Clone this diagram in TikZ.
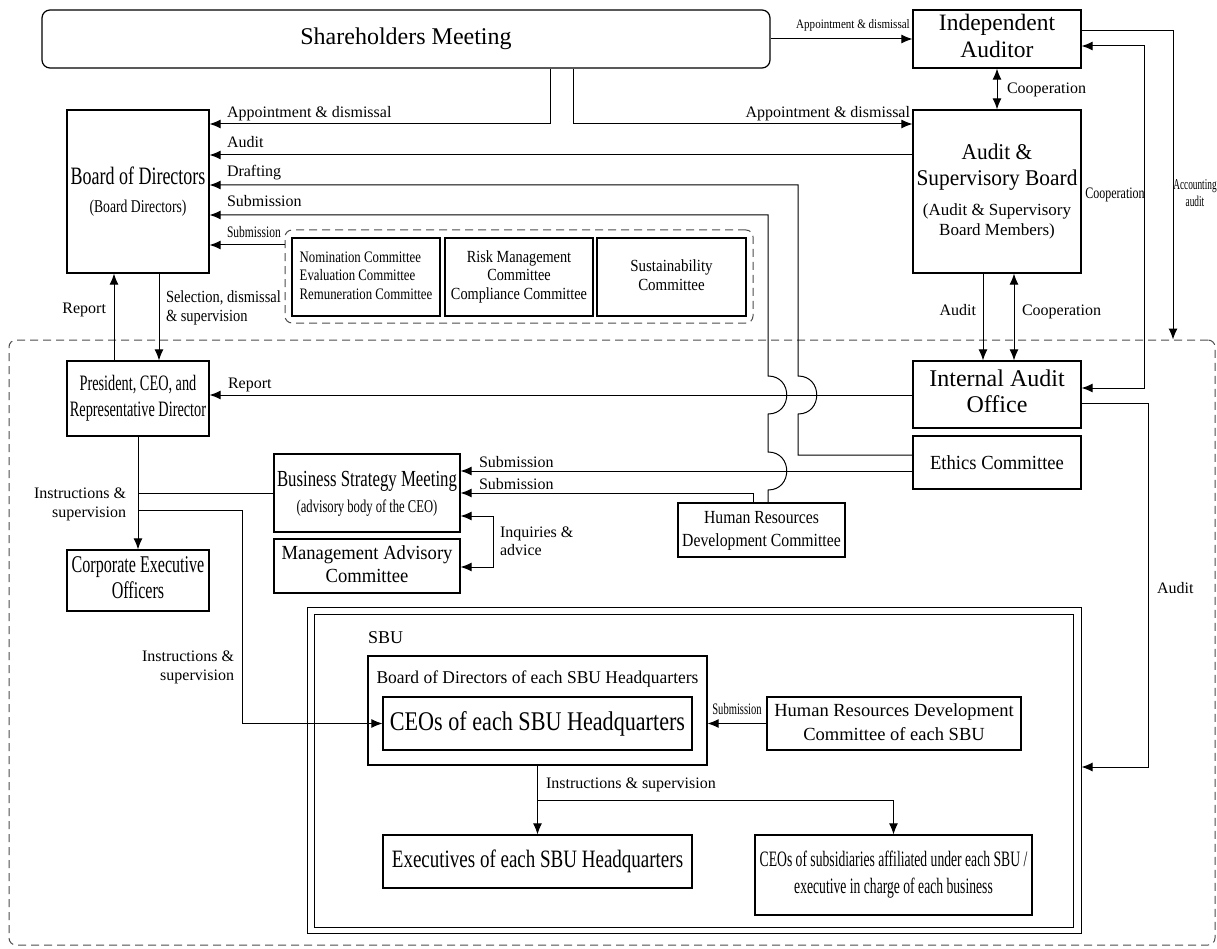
\documentclass[tikz,border=0pt]{standalone}
\usepackage{fontspec}
\setmainfont{Liberation Serif}
\usepackage{graphicx}
\usetikzlibrary{arrows.meta}
\usetikzlibrary{calc}
\tikzset{>={Latex[length=11pt,width=9pt]}}
\newcommand{\sq}[5][c]{\scalebox{#2}[1]{\fontsize{#3}{#4}\selectfont\begin{tabular}[t]{@{}#1@{}}#5\end{tabular}}}
\newcommand{\tx}[3]{\scalebox{#1}[1]{\fontsize{#2}{#2}\selectfont #3}}
\tikzset{
  box/.style={draw, line width=1.2pt, inner sep=0pt},
  lab/.style={inner sep=0pt, outer sep=0pt},
  dashbox/.style={draw=black!70, line width=1pt, dash pattern=on 8pt off 5pt, rounded corners=7pt, inner sep=0pt},
}

\begin{document}
\begin{tikzpicture}[x=1pt, y=-1pt, line width=1pt]
  \useasboundingbox (0,0) rectangle (1217,949);
  \node[dashbox, minimum width=1206, minimum height=605] (inside) at (612,642.5) {};
  \node[box, rounded corners=8pt, minimum width=728, minimum height=58] (share) at (406,39) {\tx{1}{24}{Shareholders Meeting}};
  \node[box, minimum width=168, minimum height=58] (indaud) at (997,39) {\sq{1}{23.5}{27}{Independent\\Auditor}};
  \node[box, minimum width=168, minimum height=163, align=center] (asb) at (997,191.5) {\sq{0.95}{22.5}{26}{Audit \&\\Supervisory Board}\\[7pt]\sq{1}{17}{20}{(Audit \& Supervisory\\Board Members)}};
  \node[box, minimum width=142, minimum height=163, align=center] (bod) at (138,191.5) {\sq{0.72}{25}{28}{Board of Directors}\\[4pt]\sq{0.76}{18}{21}{(Board Directors)}};
  \node[dashbox, minimum width=468, minimum height=93] (comm) at (519,276.5) {};
  \node[box, minimum width=148, minimum height=78] (nomc) at (366,277) {\sq[l]{0.8}{16}{18.5}{Nomination Committee\\Evaluation Committee\\Remuneration Committee}};
  \node[box, minimum width=148, minimum height=78] (riskc) at (519,277) {\sq{0.84}{17}{18.5}{Risk Management\\Committee\\Compliance Committee}};
  \node[box, minimum width=149, minimum height=78] (susc) at (671.5,277) {\sq{0.88}{17}{19}{Sustainability\\Committee}};
  \node[box, minimum width=142, minimum height=75] (pres) at (138,398.5) {\sq{0.65}{22}{26}{President, CEO, and\\Representative Director}};
  \node[box, minimum width=142, minimum height=61] (ceo) at (138,580.5) {\sq{0.67}{24}{26}{Corporate Executive\\Officers}};
  \node[box, minimum width=186, minimum height=78, align=center] (bsm) at (367,493) {\sq{0.73}{23}{27}{Business Strategy Meeting}\\[2pt]\sq{0.7}{18}{21}{(advisory body of the CEO)}};
  \node[box, minimum width=186, minimum height=54] (mac) at (367,566) {\sq{0.93}{20}{23}{Management Advisory\\Committee}};
  \node[box, minimum width=167, minimum height=54] (hrd) at (761.5,530) {\sq{0.85}{18.5}{23}{Human Resources\\Development Committee}};
  \node[box, minimum width=168, minimum height=67] (iao) at (997,394.5) {\sq{1}{24}{26}{Internal Audit\\Office}};
  \node[box, minimum width=168, minimum height=53] (ethics) at (997,462.5) {\tx{0.93}{20}{Ethics Committee}};
  \node[box, line width=1pt, minimum width=774, minimum height=326] (sbu) at (694,770) {};
  \draw ($(sbu.north west)+(8,8)$) rectangle ($(sbu.south east)+(-8,-6)$);
  \node[lab, anchor=base west] (sbulab) at (368,643) {\tx{1}{18}{SBU}};
  \node[box, minimum width=339, minimum height=109] (sbubod) at (537.5,710.5) {};
  \node[lab, anchor=base] (sbubodlab) at (537.5,683) {\tx{0.97}{18}{Board of Directors of each SBU Headquarters}};
  \node[box, minimum width=309, minimum height=53] (sbuceo) at (537.5,723.5) {\tx{0.82}{27}{CEOs of each SBU Headquarters}};
  \node[box, minimum width=254, minimum height=53] (hrdsbu) at (894,723.5) {\sq{1}{18.5}{24}{Human Resources Development\\Committee of each SBU}};
  \node[box, minimum width=309, minimum height=53] (exec) at (537.5,861.5) {\tx{0.76}{25}{Executives of each SBU Headquarters}};
  \node[box, minimum width=277, minimum height=80] (subs) at (893.5,875) {\sq{0.62}{22}{27}{CEOs of subsidiaries affiliated under each SBU /\\executive in charge of each business}};

  \draw[->] (share.east) -- (indaud.west);
  \node[lab, anchor=base] (l-apptop) at (853,29) {\tx{0.85}{13}{Appointment \& dismissal}};
  \draw[->] (share.south -| 550,0) |- (bod.east |- 0,124);
  \node[lab, anchor=base west] (l-appbod) at (227,118) {\tx{1}{16}{Appointment \& dismissal}};
  \draw[->] (share.south -| 573,0) |- (asb.west |- 0,124);
  \node[lab, anchor=base east] (l-appasb) at (910,118) {\tx{1}{16}{Appointment \& dismissal}};
  \draw[->] (asb.west |- 0,155) -- (bod.east |- 0,155);
  \node[lab, anchor=base west] (l-audit) at (227,148) {\tx{1}{16}{Audit}};
  \draw[->] (ethics.west |- 0,455) -- (798,455) -- (798,414) .. controls (823,414) and (823,376) .. (798,376) -- (798,185) -- (bod.east |- 0,185);
  \node[lab, anchor=base west] (l-draft) at (227,177) {\tx{1}{16}{Drafting}};
  \draw[->] (hrd.north -| 768,0) -- (768,490) .. controls (793,490) and (793,452) .. (768,452) -- (768,414) .. controls (793,414) and (793,376) .. (768,376) -- (768,215) -- (bod.east |- 0,215);
  \node[lab, anchor=base west] (l-subm) at (227,207) {\tx{1}{16}{Submission}};
  \draw[->] (comm.west |- 0,245) -- (bod.east |- 0,245);
  \node[lab, anchor=base west] (l-subc) at (227,238) {\tx{0.72}{16}{Submission}};
  \draw[->] (pres.north -| 114,0) -- (bod.south -| 114,0);
  \node[lab, anchor=base east] (l-rep) at (106,313) {\tx{1}{16}{Report}};
  \draw[->] (bod.south -| 159,0) -- (pres.north -| 159,0);
  \node[lab, anchor=base west] (l-sel) at (166,303) {\sq[l]{0.85}{17}{19}{Selection, dismissal\\\& supervision}};
  \draw[->] (asb.south -| 983,0) -- (iao.north -| 983,0);
  \node[lab, anchor=base east] (l-aud2) at (976,316) {\tx{1}{16}{Audit}};
  \draw[<->] (iao.north -| 1014,0) -- (asb.south -| 1014,0);
  \node[lab, anchor=base west] (l-coop2) at (1022,316) {\tx{1}{16}{Cooperation}};
  \draw[<->] (indaud.south) -- (asb.north);
  \node[lab, anchor=base west] (l-coop1) at (1007,94) {\tx{1}{16}{Cooperation}};
  \draw[<->] (indaud.east |- 0,46) -- (1144,46) -- (1144,388) -- (iao.east |- 0,388);
  \node[lab, anchor=base] (l-coop3) at (1115,199) {\tx{0.75}{16}{Cooperation}};
  \draw[->] (indaud.east |- 0,31) -- (1173,31) -- (inside.north -| 1173,0);
  \node[lab, anchor=base] (l-acc) at (1195,190) {\sq{0.62}{15}{17}{Accounting\\audit}};
  \draw[->] (iao.west |- 0,395) -- (pres.east |- 0,395);
  \node[lab, anchor=base west] (l-rep2) at (228,388) {\tx{1}{16}{Report}};
  \draw[->] (ethics.west |- 0,471) -- (bsm.east |- 0,471);
  \node[lab, anchor=base west] (l-sub1) at (479,467) {\tx{1}{16}{Submission}};
  \draw[->] (hrd.north -| 753,0) |- (bsm.east |- 0,493);
  \node[lab, anchor=base west] (l-sub2) at (479,489) {\tx{1}{16}{Submission}};
  \draw[<->] (bsm.east |- 0,516) -- (493,516) -- (493,567) -- (mac.east |- 0,567);
  \node[lab, anchor=base west] (l-inq) at (500,537) {\sq[l]{1}{16}{18}{Inquiries \&\\advice}};
  \draw[->] (pres.south) -- (ceo.north);
  \draw (pres.south |- 0,493) -- (bsm.west |- 0,493);
  \node[lab, anchor=base east] (l-ins1) at (126,498) {\sq[r]{1}{16}{19}{Instructions \&\\supervision}};
  \draw[->] (pres.south |- 0,510) -- (242,510) -- (242,723.5) -- (sbuceo.west);
  \node[lab, anchor=base east] (l-ins2) at (234,661) {\sq[r]{1}{16}{19}{Instructions \&\\supervision}};
  \draw[->] (iao.east |- 0,403) -- (1148,403) -- (1148,767) -- (sbu.east |- 0,767);
  \node[lab, anchor=base west] (l-aud3) at (1157,593) {\tx{1}{16}{Audit}};
  \draw[->] (hrdsbu.west) -- (sbubod.east |- hrdsbu.west);
  \node[lab, anchor=base] (l-subsbu) at (737,714) {\tx{0.66}{16}{Submission}};
  \draw[->] (sbubod.south -| exec.north) -- (exec.north);
  \draw[->] (exec.north |- 0,800) -| (subs.north);
  \node[lab, anchor=base west] (l-ins3) at (546,788) {\tx{1}{16}{Instructions \& supervision}};
\end{tikzpicture}
\end{document}
